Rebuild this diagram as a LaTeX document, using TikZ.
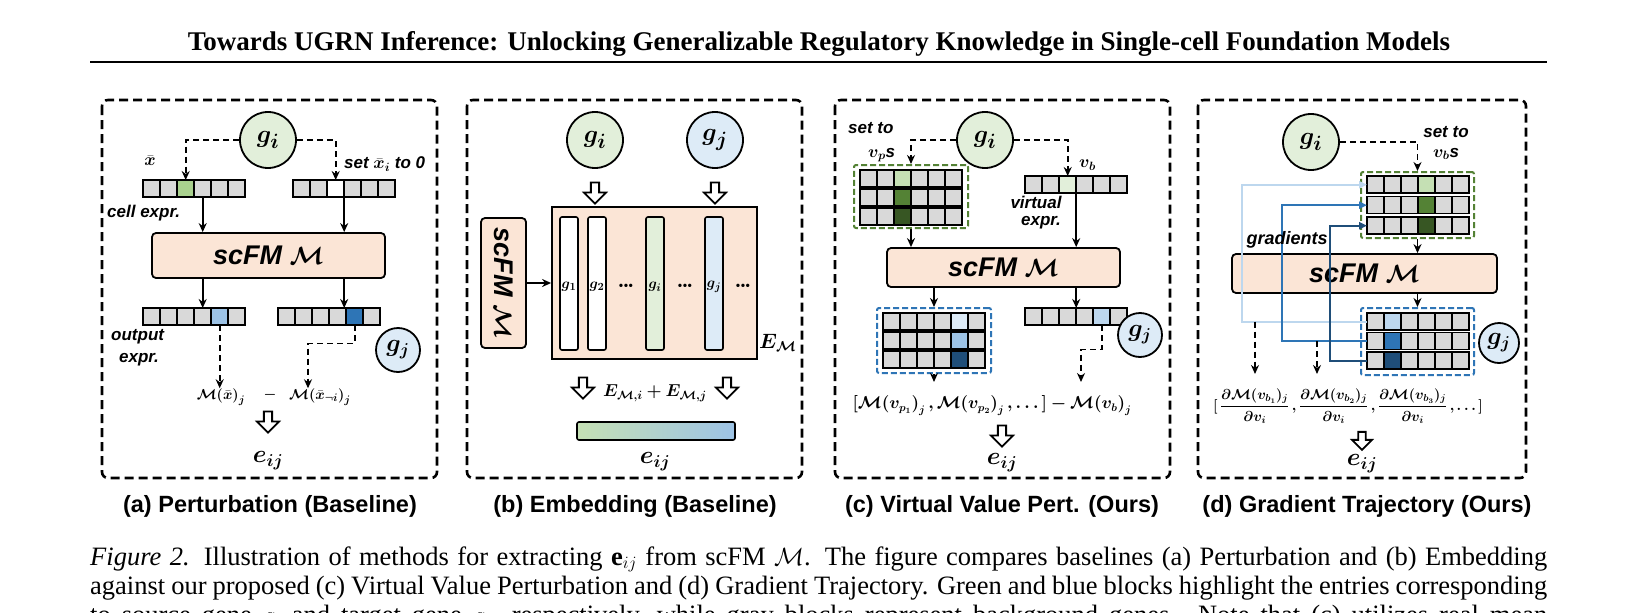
\documentclass[tikz,border=0pt]{standalone}
\usepackage{amsmath,bm}
\usepackage{fontspec}
\setmainfont{Liberation Serif}
\setsansfont{Liberation Sans}
\usetikzlibrary{arrows.meta,shapes.arrows,calc}
\definecolor{cgray}{HTML}{D9D9D9}
\definecolor{peach}{HTML}{FBE5D6}
\definecolor{lgreen}{HTML}{E2EFDA}
\definecolor{lblue}{HTML}{DDEBF7}
\definecolor{agreen}{HTML}{A9D18E}
\definecolor{ablue1}{HTML}{9DC3E6}
\definecolor{ablue2}{HTML}{2E75B6}
\definecolor{g1}{HTML}{C5E0B4}
\definecolor{g2}{HTML}{548235}
\definecolor{g3}{HTML}{375623}
\definecolor{b1}{HTML}{BDD7EE}
\definecolor{b2}{HTML}{2E75B6}
\definecolor{b3}{HTML}{1F4E79}
\definecolor{gbar}{HTML}{C5E0B4}
\definecolor{bbar}{HTML}{9DC3E6}
\newcommand\gtx[1]{{\fontsize{30}{30}\selectfont$\bm{#1}$}}
\newcommand\gty[1]{{\fontsize{25}{25}\selectfont$\bm{#1}$}}
\newcommand\capln[1]{\hbox to 1457pt{#1}}
\newcommand\vrow[6]{%
  \node[inner sep=0,minimum width=#4*17pt,minimum height=17pt,anchor=north west] (#1) at (#2,#3) {};
  \foreach \c in {1,...,#4}{%
    \ifnum\c=#5\def\fc{#6}\else\def\fc{cgray}\fi
    \draw[cell,fill=\fc] (#2+\c*17-17,#3) rectangle ++(17,17);}%
}
\tikzset{
 cell/.style={draw=black,line width=1.3pt},
 circ/.style={circle,draw=black,line width=1.8pt,minimum size=56pt,inner sep=0},
 fm/.style={draw=black,line width=1.8pt,rounded corners=4pt,fill=peach,inner sep=0,
   font=\sffamily\bfseries\itshape\fontsize{27}{27}\selectfont},
 arr/.style={-{Stealth[length=9pt,width=8pt]},line width=1.6pt},
 darr/.style={arr,dash pattern=on 6pt off 4pt},
 hol/.style={single arrow,draw=black,line width=1.8pt,fill=white,shape border rotate=270,
   minimum width=22pt,minimum height=21pt,single arrow head extend=4pt,inner sep=1.5pt},
 pbox/.style={draw=black,line width=2.6pt,dash pattern=on 9pt off 5pt,rounded corners=6pt},
 gbox/.style={draw=g2,line width=2pt,dash pattern=on 6pt off 3pt,rounded corners=2pt},
 bbox/.style={draw=b2,line width=2pt,dash pattern=on 6pt off 3pt,rounded corners=2pt},
 lbl/.style={font=\sffamily\bfseries\itshape\fontsize{17}{19}\selectfont,inner sep=0},
 plab/.style={font=\sffamily\bfseries\fontsize{23.5}{25}\selectfont,anchor=base},
 mth/.style={inner sep=0},
 garr/.style={-{Triangle[length=8pt,width=7pt]},line width=2pt},
 bar/.style={draw=black,line width=1.6pt,rounded corners=2pt,minimum width=18pt,minimum height=133pt,inner sep=0},
 capline/.style={anchor=base west,inner sep=0,font=\fontsize{26.5}{29}\selectfont},
}
\begin{document}
\begin{tikzpicture}[x=1pt,y=-1pt]
\useasboundingbox (0,0) rectangle (1639,613);
\clip (0,0) rectangle (1639,613);
\fill[white] (0,0) rectangle (1639,613);
% title
\node[anchor=base,inner sep=0,font=\bfseries\fontsize{27}{27}\selectfont] (title) at (819,50)
 {Towards UGRN Inference: Unlocking Generalizable Regulatory Knowledge in Single-cell Foundation Models};
\draw[line width=2pt] (90,62) -- (1547,62);
% panel boxes
\draw[pbox] (102,100) rectangle (437,478);
\draw[pbox] (467,100) rectangle (802,478);
\draw[pbox] (835,100) rectangle (1170,478);
\draw[pbox] (1198,100) rectangle (1526,478);
\node[plab] (la) at (270,512) {(a) Perturbation (Baseline)};
\node[plab] (lb) at (635,512) {(b) Embedding (Baseline)};
\node[plab] (lc) at (1002,512) {(c) Virtual Value Pert. (Ours)};
\node[plab] (ld) at (1367,512) {(d) Gradient Trajectory (Ours)};

% ---------- panel a
\node[circ,fill=lgreen] (ai) at (268,140) {\gtx{g_i}};
\vrow{ax}{143}{180}{6}{3}{agreen}
\vrow{axp}{293}{180}{6}{3}{white}
\draw[darr] (ai.west) -| ([xshift=-8.5pt]ax.north);
\draw[darr] (ai.east) -| ([xshift=-8.5pt]axp.north);
\node[lbl] (axl) at (150,161) {$\bm{\bar{x}}$};
\node[lbl,anchor=west] (axpl) at (344,164) {set $\bm{\bar{x}_i}$ to 0};
\node[lbl,anchor=west] (cel) at (107,213) {cell expr.};
\node[fm,minimum width=233pt,minimum height=45pt] (asc) at (268.5,255.5) {scFM $\bm{\mathcal{M}}$};
\draw[arr] ([xshift=8.5pt]ax.south) -- ([xshift=8.5pt]ax.south |- asc.north);
\draw[arr] (axp.south) -- (axp.south |- asc.north);
\vrow{ao}{143}{308}{6}{5}{ablue1}
\vrow{aop}{278}{308}{6}{5}{ablue2}
\draw[arr] ([xshift=8.5pt]ax.south |- asc.south) -- ([xshift=8.5pt]ax.south |- ao.north);
\draw[arr] (axp.south |- asc.south) -- (axp.south |- aop.north);
\node[lbl,anchor=west] (aol1) at (111,337) {output};
\node[lbl,anchor=west] (aol2) at (119,360) {expr.};
\node[circ,fill=lblue,minimum size=44pt] (aj) at (398,350) {\gty{g_j}};
\node[mth,font=\fontsize{15}{15}\selectfont] (af1) at (221,397) {$\bm{\mathcal{M}(\bar{x})_j}$};
\node[mth,font=\fontsize{15}{15}\selectfont] (afm) at (270,395) {$\bm{-}$};
\node[mth,font=\fontsize{15}{15}\selectfont] (af2) at (320,397) {$\bm{\mathcal{M}(\bar{x}_{\neg i})_j}$};
\draw[darr] ([xshift=25.5pt]ao.south) -- ([xshift=25.5pt]ao.south |- af1.north);
\draw[darr] ([xshift=25.5pt]aop.south) -- ++(0,18) -| ([xshift=-12pt]af2.north);
\node[hol] (ah) at (268,420) {};
\node[mth,font=\fontsize{25}{25}\selectfont] (ae) at (268,461) {$\bm{e_{ij}}$};

% ---------- panel b
\node[circ,fill=lgreen] (bi) at (595,140) {\gtx{g_i}};
\node[circ,fill=lblue] (bj) at (715,140) {\gtx{g_j}};
\node[hol] (bh1) at (595,191) {};
\node[hol] (bh2) at (715,191) {};
\node[draw=black,line width=1.8pt,fill=peach,minimum width=205pt,minimum height=152pt,inner sep=0] (bE) at (654.5,283) {};
\node[bar,fill=white] (bg1) at (569,283.5) {};
\node[bar,fill=white] (bg2) at (597,283.5) {};
\node[bar,fill=lgreen] (bgi) at (655,283.5) {};
\node[bar,fill=lblue] (bgj) at (714,283.5) {};
\foreach \n/\x/\t in {t1/569/g_1,t2/597/g_2,ti/655/g_i,tj/714/g_j}
  \node[mth,font=\fontsize{15}{15}\selectfont] (b\n) at (\x,287) {$\bm{\t}$};
\foreach \n/\x in {d1/626,d2/685,d3/743}
  \node[mth,font=\fontsize{14}{14}\selectfont] (b\n) at (\x,287) {\textbullet\textbullet\textbullet};
\node[mth,anchor=west,font=\fontsize{22}{22}\selectfont] (bEl) at (759,343) {$\bm{E_{\mathcal{M}}}$};
\node[fm,minimum width=130pt,minimum height=45pt,rotate=-90] (bm) at (503.5,283) {scFM $\bm{\mathcal{M}}$};
\draw[arr] (bm.north) -- (bm.north -| bE.west);
\node[hol] (bh3) at (583,386) {};
\node[hol] (bh4) at (727,386) {};
\node[mth,font=\fontsize{17}{17}\selectfont] (bsum) at (655,393) {$\bm{E_{\mathcal{M},i}+E_{\mathcal{M},j}}$};
\node[draw=black,line width=1.6pt,rounded corners=2pt,left color=gbar,right color=bbar,minimum width=158pt,minimum height=18pt,inner sep=0] (bbar) at (656,431) {};
\node[mth,font=\fontsize{25}{25}\selectfont] (be) at (655,462) {$\bm{e_{ij}}$};

% ---------- panel c
\node[circ,fill=lgreen] (ci) at (985,140) {\gtx{g_i}};
\node[lbl,anchor=west] (cst) at (848,128) {set to};
\node[lbl,anchor=west] (cvp) at (868,155) {$\bm{v_p}$s};
\node[gbox,minimum width=114pt,minimum height=63pt,inner sep=0] (cg) at (911,196.5) {};
\vrow{cr1}{860}{170}{6}{3}{g1}
\vrow{cr2}{860}{189}{6}{3}{g2}
\vrow{cr3}{860}{208}{6}{3}{g3}
\vrow{cv}{1025}{176}{6}{3}{lgreen}
\draw[darr] (ci.west) -| (cg.north);
\draw[darr] (ci.east) -| ([xshift=-8.5pt]cv.north);
\node[lbl,anchor=west] (cvb) at (1079,165) {$\bm{v_b}$};
\node[lbl] (cvi1) at (1036,202) {virtual};
\node[lbl] (cvi2) at (1041,223) {expr.};
\node[fm,minimum width=233pt,minimum height=39pt] (csc) at (1003.5,267.5) {scFM $\bm{\mathcal{M}}$};
\draw[arr] (cg.south) -- (cg.south |- csc.north);
\draw[arr] (cv.south) -- (cv.south |- csc.north);
\node[bbox,minimum width=114pt,minimum height=65pt,inner sep=0] (cb) at (934,340.5) {};
\vrow{cb1}{883}{313}{6}{5}{lblue}
\vrow{cb2}{883}{332}{6}{5}{ablue1}
\vrow{cb3}{883}{351}{6}{5}{b3}
\vrow{co}{1025}{308}{6}{5}{b1}
\draw[arr] (cb.north |- csc.south) -- (cb.north);
\draw[arr] (co.north |- csc.south) -- (co.north);
\node[circ,fill=lblue,minimum size=44pt] (cj) at (1140,335) {\gty{g_j}};
\node[mth,font=\fontsize{16}{16}\selectfont] (cf) at (992,406) {$\bm{[\mathcal{M}(v_{p_1})_j\,,\mathcal{M}(v_{p_2})_j\,,\ldots\,]-\mathcal{M}(v_b)_j}$};
\coordinate (cfa) at (934,382);
\coordinate (cfb) at (1081,382);
\draw[darr] (cb.south) -- (cfa);
\draw[darr] ([xshift=25.5pt]co.south) -- ++(0,24) -| (cfb);
\node[hol] (ch) at (1002,434) {};
\node[mth,font=\fontsize{25}{25}\selectfont] (ce) at (1002,463) {$\bm{e_{ij}}$};

% ---------- panel d
\node[circ,fill=lgreen] (di) at (1311,142) {\gtx{g_i}};
\node[lbl] (dst) at (1446,132) {set to};
\node[lbl] (dvb) at (1446,154) {$\bm{v_b}$s};
\node[gbox,minimum width=113pt,minimum height=66pt,inner sep=0] (dg) at (1417.5,205) {};
\vrow{dr1}{1367}{176}{6}{4}{g1}
\vrow{dr2}{1367}{196.5}{6}{4}{g2}
\vrow{dr3}{1367}{217}{6}{4}{g3}
\draw[darr] (di.east) -| (dg.north);
\node[fm,minimum width=265pt,minimum height=39pt] (dsc) at (1364.5,273.5) {scFM $\bm{\mathcal{M}}$};
\node[bbox,minimum width=113pt,minimum height=67pt,inner sep=0] (db) at (1417.5,341.5) {};
\vrow{db1}{1367}{313}{6}{2}{b1}
\vrow{db2}{1367}{332.5}{6}{2}{b2}
\vrow{db3}{1367}{352}{6}{2}{b3}
\draw[arr] (dg.south) -- (dg.south |- dsc.north);
\draw[arr] (db.north |- dsc.south) -- (db.north);
\draw[garr,draw=b1,-{Triangle[length=8pt,width=7pt,fill=b1]}] (db1.west) -| ([xshift=-125pt]dr1.west) -- (dr1.west);
\draw[garr,draw=b2] (db2.west) -| ([xshift=-85pt]dr2.west) -- (dr2.west);
\draw[garr,draw=b3] (db3.west) -| ([xshift=-37pt]dr3.west) -- (dr3.west);
\node[lbl,font=\sffamily\bfseries\itshape\fontsize{18}{19}\selectfont] (dgl) at (1287,240) {gradients};
\node[circ,fill=lblue,minimum size=40pt] (dj) at (1499,343) {\gty{g_j}};
\coordinate (dd1) at (1255,374);
\coordinate (dd2) at (1317,374);
\draw[darr] (db1.west -| dd1) -- (dd1);
\draw[darr] (db2.west -| dd2) -- (dd2);
\node[mth,font=\fontsize{14}{14}\selectfont] (df) at (1348,406)
 {$\bm{[\,\dfrac{\partial\mathcal{M}(v_{b_1})_j}{\partial v_i}\,,\dfrac{\partial\mathcal{M}(v_{b_2})_j}{\partial v_i}\,,\dfrac{\partial\mathcal{M}(v_{b_3})_j}{\partial v_i}\,,\ldots\,]}$};
\node[hol,minimum height=18pt,minimum width=20pt] (dh) at (1362,439) {};
\node[mth,font=\fontsize{25}{25}\selectfont] (de) at (1362,464) {$\bm{e_{ij}}$};

% caption
\node[capline] (c1) at (90,565) {\capln{\textit{Figure 2.} Illustration of methods for extracting $\mathbf{e}_{ij}$ from scFM $\mathcal{M}$. The figure compares baselines (a) Perturbation and (b) Embedding}};
\node[capline] (c2) at (90,594) {\capln{against our proposed (c) Virtual Value Perturbation and (d) Gradient Trajectory. Green and blue blocks highlight the entries corresponding}};
\node[capline] (c3) at (90,623) {\capln{to source gene $g_i$ and target gene $g_j$, respectively, while gray blocks represent background genes. Note that (c) utilizes real mean}};
\end{tikzpicture}
\end{document}
